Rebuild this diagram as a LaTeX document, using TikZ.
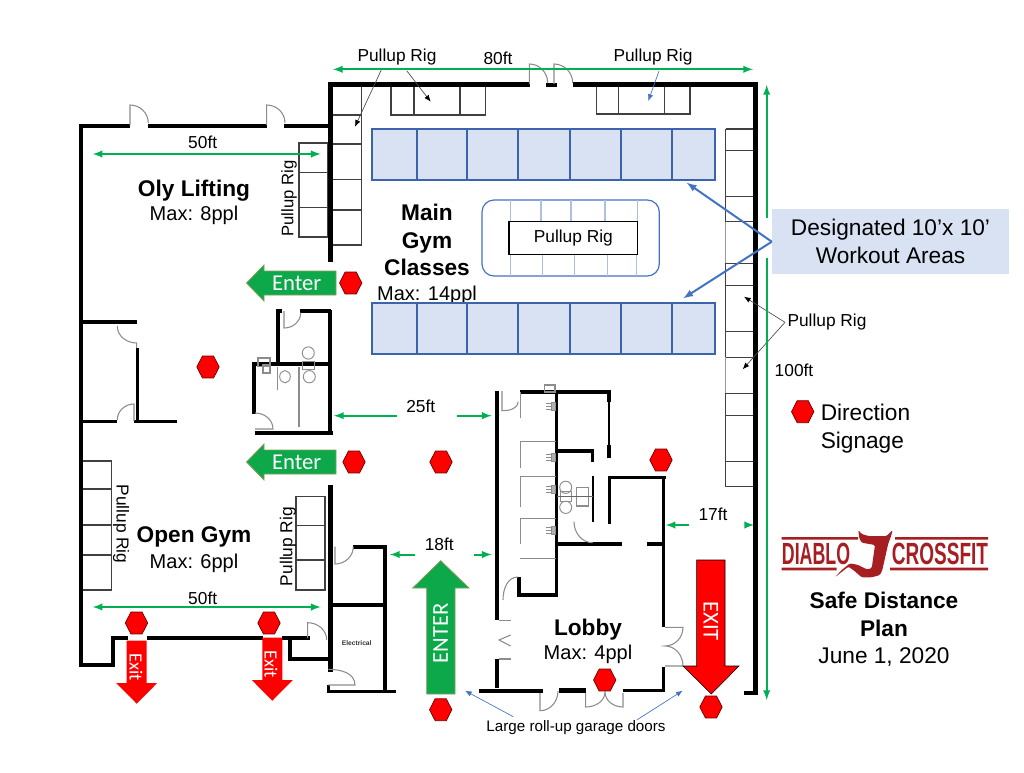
\documentclass[tikz,border=0pt]{standalone}
\usepackage{fontspec}
\setmainfont{Liberation Sans}
\newfontfamily\signfont{Carlito}
\usetikzlibrary{shapes.geometric,arrows.meta}
\definecolor{zonefill}{HTML}{D9E2F3}
\definecolor{zoneline}{HTML}{3B64AD}
\definecolor{callblue}{HTML}{4472C4}
\definecolor{dimgreen}{HTML}{00B050}
\definecolor{logored}{HTML}{A61E22}
\definecolor{signgreen}{HTML}{0CA84A}
\definecolor{signedge}{HTML}{8A9A5B}
\newcommand{\fsz}[2]{\fontsize{#1}{#2}\selectfont}
\tikzset{
  wall/.style={line width=3pt,line cap=butt,line join=miter},
  thinwall/.style={line width=2.3pt,line join=miter},
  door/.style={line width=.8pt,black!45},
  fixture/.style={line width=.7pt,black!45},
  rigline/.style={line width=1.1pt,black!75},
  zone/.style={line width=1.7pt,draw=zoneline,fill=zonefill},
  dimline/.style={line width=1.5pt,dimgreen,>=latex},
  leader/.style={line width=.5pt,black!70,-{Latex[black,length=5pt,width=4pt]}},
  blueleader/.style={line width=.5pt,callblue,-{Latex[length=5pt,width=4pt]}},
  sign/.style={regular polygon,regular polygon sides=6,draw=black!60!red,line width=.5pt,fill=red,inner sep=0pt,minimum size=16.8pt,yscale=1.13},
  enterarrow/.style={fill=signgreen,draw=signedge,line width=.6pt},
  exitarrow/.style={fill=red},
  room/.style={font=\fsz{17}{20.6}\bfseries,align=center,inner sep=0pt},
  maxppl/.style={font=\fsz{15}{18},inner sep=0pt},
  riglabel/.style={font=\fsz{13}{16},inner sep=0pt},
  signtext/.style={font=\signfont\fsz{17}{20},text=white,inner sep=0pt},
}
\begin{document}
\begin{tikzpicture}[x=.75pt,y=-.75pt]
    \useasboundingbox (0,0) rectangle (1024,772);
    % pullup rigs
    \draw[rigline] (299,143) rectangle (327.7,237);
    \foreach \y in {172.7,207.7} { \draw[rigline] (299,\y) -- (327.7,\y); }
    \draw[rigline] (332.7,85) rectangle (361.7,245);
    \foreach \y in {115,144,179.7,210} { \draw[rigline] (332.7,\y) -- (361.7,\y); }
    \draw[rigline] (82,461) rectangle (111.5,590);
    \foreach \y in {489,525,555} { \draw[rigline] (82,\y) -- (111.5,\y); }
    \draw[rigline] (296,496.7) rectangle (325,590);
    \foreach \y in {525.7,560} { \draw[rigline] (296,\y) -- (325,\y); }
    \draw[rigline] (391,85) rectangle (485.3,115);
    \foreach \x in {414,460} { \draw[rigline] (\x,85) -- (\x,115); }
    \draw[rigline] (596.3,85) rectangle (690,114);
    \foreach \x in {618.7,664.3} { \draw[rigline] (\x,85) -- (\x,114); }
    \foreach \y in {129,150.7,196.7,221.7,263.3,285.7,331.7,357.3,393.3,415.7,461.7,486.7} { \draw[rigline] (725.7,\y) -- (755,\y); }
    \foreach \a/\b in {129/221.7,263.3/357.3,393.3/486.7} { \draw[rigline] (725.7,\a) -- (725.7,\b); }
    \foreach \a/\b in {221.7/263.3,357.3/393.3} { \draw[rigline,black!40] (725.7,\a) -- (725.7,\b); }
    % outer walls
    \draw[wall] (130,125.7) -- (80.7,125.7) -- (80.7,665) -- (113,665) -- (113,638) -- (128,638);
    \foreach \a/\b in {147/263,282/310} { \draw[thinwall] (\a,638) -- (\b,638); }
    \draw[wall] (148.3,125.7) -- (266.7,125.7);
    \draw[wall] (284,125.7) -- (330,125.7);
    \draw[wall,line width=3.4pt] (330.7,261.7) -- (330.7,84.3) -- (530,84.3);
    \draw[wall] (546,84.8) -- (557,84.8);
    \draw[wall,line width=3.4pt] (572.7,84.3) -- (755.5,84.3) -- (755.5,693) -- (744,693);
    \draw[thinwall] (290,638) -- (290,659) -- (328,659);
    \draw[wall,line width=3.4pt] (330.7,485) -- (330.7,672);
    % left room
    \draw[thinwall] (80,322) -- (136.7,322);
    \draw[thinwall] (137.7,348) -- (137.7,421.7);
    \draw[thinwall] (80,421.7) -- (116.7,421.7);
    \draw[thinwall] (134,421.7) -- (176.7,421.7);
    % restrooms
    \draw[thinwall] (282,311) -- (278,311) -- (278,364);
    \draw[thinwall] (300,311) -- (331,311);
    \draw[wall] (330,310) -- (330,434);
    \draw[thinwall] (330,364) -- (254,364) -- (254,414);
    \draw[thinwall] (255,433) -- (333,433);
    % electrical rooms
    \draw[thinwall] (353,547) -- (385,547) -- (385,691.7);
    \draw[thinwall] (330,605) -- (385,605);
    \draw[thinwall] (328.3,685) -- (328.3,691.7) -- (396,691.7);
    % showers and bathroom block
    \draw[wall] (497,391) -- (497,620);
    \draw[wall] (497,659) -- (497,688);
    \draw[thinwall] (520,392) -- (609,392) -- (609,402);
    \draw[line width=1pt] (609,402) -- (609,445);
    \draw[thinwall] (609,445) -- (609,458);
    \draw[thinwall] (556.7,392) -- (556.7,595) -- (519,595) -- (519,577);
    \draw[thinwall] (557,451) -- (592.7,451) -- (592.7,461.7);
    \draw[line width=1.3pt] (592.7,475.7) -- (592.7,521.7);
    \draw[thinwall] (557,544) -- (621.7,544);
    \draw[thinwall] (646.7,544) -- (663.3,544);
    \draw[thinwall] (609.3,524) -- (609.3,477.3) -- (665.7,477.3);
    \draw[thinwall] (663.3,477.3) -- (663.3,627);
    \draw[thinwall] (663.3,666.7) -- (663.3,690);
    \draw[wall] (479,690.7) -- (542.7,690.7);
    \draw[wall,line width=3.6pt] (559.3,690.7) -- (586,690.7);
    \draw[thinwall] (622.7,690.7) -- (665,690.7);
    % stall partitions
    \foreach \a/\b in {392/418,441/468,476/507,518/544} { \draw[fixture] (520,\a) -- (520,\b); }
    \foreach \y in {441,476,518,558} { \draw[fixture] (520,\y) -- (556,\y); }
    \foreach \y in {406,457,489,530} {
      \draw[fixture] (546,\y-3) -- (554,\y-3) (546,\y) -- (554,\y) (546,\y+3) -- (554,\y+3);
      \draw[fixture,fill=black!30] (551,\y-4) rectangle (555,\y+4);
    }
    % doors
    \foreach \x/\e in {130/148.3,266.7/285} {
      \draw[door] (\x,125) -- (\x,105) to[out=0,in=90] (\e,123);
    }
    \foreach \x/\e in {529.3/547.7,554/572.7} {
      \draw[door] (\x,84) -- (\x,64) to[out=0,in=90] (\e,83);
    }
    \draw[door] (117.3,326) to[out=-90,in=180] (136.7,343) -- (136.7,348);
    \draw[door] (117.3,420) to[out=90,in=180] (134,404) -- (134,421);
    \draw[door] (284,311) -- (284,328) to[out=0,in=-90] (300.7,312.7);
    \draw[door] (255,413) to[out=0,in=90] (273,429) -- (255,429);
    \draw[door] (335,546.7) -- (335,564) to[out=0,in=-90] (353.3,546.7);
    \draw[door] (307.7,638) -- (307.7,622.7) to[out=0,in=90] (326.7,640);
    \draw[door] (328.3,669.3) to[out=0,in=90] (355,685) -- (328.3,685);
    \draw[door] (502,391) -- (502,410.7) to[out=0,in=-90] (518,401.7);
    \draw[door] (518,577) to[out=180,in=90] (503,600);
    \draw[door] (574,521.7) to[out=-90,in=180] (592.7,542.7);
    \draw[door] (499,620.7) -- (510.7,620.7);
    \draw[door] (499,659) -- (510.7,659);
    \draw[door] (510.7,635) -- (499,640) -- (510.7,646);
    \draw[door] (665,627.3) -- (683,627.3) to[out=-90,in=0] (665,646) to[out=0,in=90] (683,666) -- (665,666);
    \draw[door] (540,693) -- (540,710.7) to[out=0,in=-90] (558,691);
    \draw[door] (585.7,693) -- (585.7,707) to[out=0,in=-90] (605,691.7) to[out=-90,in=180] (623,707) -- (623,693);
    % fixtures
    \foreach \x/\y/\r in {285/376.7/4,308.3/353/4.5,309.3/376.7/4.5,565.7/487.3/4.5,565.7/507.3/4.5} {
      \draw[fixture] (\x,\y) ellipse (\r pt and 4.6pt);
    }
    \draw[fixture] (302,361) rectangle (314,369);
    \draw[fixture,line width=1pt] (258,358) rectangle (270,366.5);
    \draw[fixture,line width=1pt] (263,365) rectangle (270,373);
    \draw[fixture] (560,491.7) rectangle (571.7,501.7);
    \draw[fixture,line width=1pt] (576.7,487.3) rectangle (588.3,506);
    \draw[fixture] (576.7,496.7) -- (588.3,496.7);
    \draw[fixture,black!60,line width=.5pt] (556.7,496.7) -- (592.7,496.7);
    \draw[fixture,line width=1pt] (544.3,385) rectangle (555,392);
    \draw[fixture] (277,367) -- (277,390);
    \draw[fixture,line width=1pt] (299,367) -- (299,427);
    % room names (behind the workout rows)
    \node[room] (main) at (427,240) {Main\\Gym\\Classes};
    \node[maxppl] (mainmax) at (427,295) {Max: 14ppl};
    \node[room] (oly) at (194,190.5) {Oly Lifting};
    \node[maxppl] (olymax) at (194,215) {Max: 8ppl};
    \node[room] (open) at (194,536.5) {Open Gym};
    \node[maxppl] (openmax) at (194,563) {Max: 6ppl};
    \node[room] (lobby) at (588,630) {Lobby};
    \node[maxppl] (lobbymax) at (588,654) {Max: 4ppl};
    \node[font=\bfseries\fsz{5}{6},inner sep=0pt,black!80] (elec) at (356.7,643) {Electrical};
    % workout rows
    \foreach \a/\b in {128.7/180,302.7/354} {
      \draw[zone] (371.7,\a) rectangle (715.3,\b);
      \foreach \x in {416.7,467.3,518.3,570,620.7,671.7} { \draw[zone] (\x,\a) -- (\x,\b); }
    }
    \draw[line width=.9pt,callblue,rounded corners=9pt] (482,200) rectangle (659.3,276);
    \foreach \x in {510.7,541,571,605,637.7} { \draw[line width=.9pt,callblue!45] (\x,200) -- (\x,222); }
    \foreach \x in {510.7,542.7,574.3,607.3,636.7} { \draw[line width=.9pt,callblue!45] (\x,254) -- (\x,276); }
    \node[draw=black,line width=.9pt,fill=white,font=\fsz{13}{16},minimum width=96.5pt,minimum height=24.5pt,inner sep=0pt] (centrig) at (573.3,238) {Pullup Rig};
    % rig labels
    \node[riglabel] (rigleft) at (397,57) {Pullup Rig};
    \node[riglabel] (rigtop) at (653,57) {Pullup Rig};
    \node[riglabel] (rigright) at (827,322) {Pullup Rig};
    \node[riglabel,rotate=90,font=\fsz{12.5}{15}] (rigoly) at (289,198.5) {Pullup Rig};
    \node[riglabel,rotate=90,font=\fsz{13}{15}] (rigopen) at (288,546.5) {Pullup Rig};
    \node[riglabel,rotate=-90,font=\fsz{13}{15}] (riggym) at (121,524) {Pullup Rig};
    \foreach \n/\x/\y in {la/381.7/69,lb/355/126.7,lc/406.7/70.7,ld/430.7/101.7,le/659/71,lf/648.3/101,lg/785/322.3,lh/744/296.7,li/742.7/369.3} {
      \coordinate (\n) at (\x,\y);
    }
    \draw[leader] (la) -- (lb);
    \draw[leader] (lc) -- (ld);
    \draw[blueleader] (le) -- (lf);
    \draw[leader] (lg) -- (lh);
    \draw[leader] (lg) -- (li);
    % dimensions
    \foreach \n/\x/\y in {wa/333/69.3,wb/753/69.3,wc/92.7/154,wd/320.7/154,we/92.7/607,wf/320.7/607,ha/766.7/85,hb/766.7/218,hc/766.7/258,hd/766.7/700,pa/334/415.7,pb/396.7/415.7,pc/456.7/415.7,pd/491.7/415.7,qa/390/554.5,qb/415/554.5,qc/474/554.5,qd/491.7/554.5,ra/665.7/525,rb/689/525,rc/748/525,rd/754/525} {
      \coordinate (\n) at (\x,\y);
    }
    \draw[dimline,<->] (wa) -- (wb);
    \draw[dimline,<->] (wc) -- (wd);
    \draw[dimline,<->] (we) -- (wf);
    \draw[dimline,->] (hb) -- (ha);
    \draw[dimline,->] (hc) -- (hd);
    \foreach \a/\b in {pb/pa,pc/pd,qb/qa,qc/qd,rb/ra,rc/rd} { \draw[dimline,->] (\a) -- (\b); }
    \foreach \n/\x/\y/\t in {d80/498/58/80ft,d50a/202.7/142.7/50ft,d50b/202.7/598/50ft,d100/794/370/100ft,d25/420.7/406.7/25ft,d18/439.3/544/18ft,d17/713/514/17ft} {
      \node[riglabel] (\n) at (\x,\y) {\t};
    }
    % callout
    \node[fill=zonefill,font=\fsz{17}{21},align=center,inner sep=0pt,minimum width=177.7pt,minimum height=48.5pt] (callout) at (890.5,241.7) {Designated 10’x 10’\\Workout Areas};
    \coordinate (ca) at (686.7,182.7);
    \coordinate (cb) at (683.3,298.3);
    \draw[line width=1.5pt,callblue,->,>=latex] (callout.west) -- (ca);
    \draw[line width=1.5pt,callblue,->,>=latex] (callout.west) -- (cb);
    % block arrows
    \foreach \y in {283,462} {
      \draw[enterarrow] (336,\y-12) -- (264,\y-12) -- (264,\y-18) -- (246.5,\y) -- (264,\y+18) -- (264,\y+12) -- (336,\y+12) -- cycle;
    }
    \node[signtext] (entera) at (296.7,283.5) {Enter};
    \node[signtext] (enterb) at (296.7,462.5) {Enter};
    \draw[enterarrow] (426.7,694) -- (426.7,588) -- (412.7,588) -- (440.7,560.7) -- (469,588) -- (455,588) -- (455,694) -- cycle;
    \node[signtext,rotate=90] (enterc) at (440.7,633) {ENTER};
    \draw[exitarrow] (696.7,560) -- (725,560) -- (725,666) -- (739,666) -- (711.3,694) -- (683,666) -- (696.7,666) -- cycle;
    \node[signtext,rotate=-90] (exita) at (711,621) {EXIT};
    \foreach \x/\y in {136.7/640.7,272.3/637.7} {
      \fill[exitarrow] (\x-10,\y) -- (\x+10,\y) -- (\x+10,\y+42.5) -- (\x+20.3,\y+42.5) -- (\x,\y+63) -- (\x-20.3,\y+42.5) -- (\x-10,\y+42.5) -- cycle;
    }
    \node[signtext,rotate=-90,font=\signfont\fsz{14}{16}] (exitb) at (136,667) {Exit};
    \node[signtext,rotate=-90,font=\signfont\fsz{14}{16}] (exitc) at (271,664) {Exit};
    % direction signs
    \foreach \n/\x/\y in {sa/350.7/283,sb/354/462,sc/208/367,sd/441/462,se/661/460,sf/136.5/623,sg/269/623,sh/604.7/680,si/440.7/709.7,sj/711/707,sk/802.7/411.7} {
      \node[sign] (\n) at (\x,\y) {};
    }
    \node[font=\fsz{17}{21},align=left,inner sep=0pt,anchor=west] (legend) at (820.5,429) {Direction\\Signage};
    % garage doors
    \node[font=\fsz{11.4}{14},inner sep=0pt] (garage) at (576,728) {Large roll-up garage doors};
    \foreach \n/\x/\y in {ga/513.3/716.7,gb/465/690.7,gc/636.7/720,gd/682.7/690.7} { \coordinate (\n) at (\x,\y); }
    \draw[blueleader] (ga) -- (gb);
    \draw[blueleader] (gc) -- (gd);
    % logo
    \fill[logored] (781.7,537) rectangle (858,539.6) (895,537) rectangle (988,539.6);
    \fill[logored] (781.7,567.7) rectangle (836.7,570.3) (890,567.7) rectangle (988,570.3);
    \node[font=\bfseries\fsz{23}{24},text=logored,xscale=.58,inner sep=0pt] (logoa) at (816,554) {DIABLO};
    \node[font=\bfseries\fsz{23}{24},text=logored,xscale=.62,inner sep=0pt] (logob) at (940,554) {CROSSFIT};
    \fill[logored,rounded corners=1pt] (858.3,530) -- (861.7,534) -- (868.3,536) -- (886.7,536) -- (892.7,530) -- (890.7,537.3) -- (888.3,543.3) -- (882.3,570) -- (880,575) -- (871.7,577.3) -- (861.7,577.3) -- (853.3,570) -- (848.3,566.7) -- (835,577.3) -- (841.7,570) -- (850,563.3) -- (858.3,565) -- (866.7,569.3) -- (871.7,568.3) -- (875,545) -- (861.7,542.7) -- (859.3,538.3) -- cycle;
    % title
    \node[room,font=\fsz{17}{21}\bfseries] (title) at (884,614) {Safe Distance\\Plan};
    \node[font=\fsz{17}{21},inner sep=0pt] (date) at (884,657) {June 1, 2020};
\end{tikzpicture}
\end{document}
